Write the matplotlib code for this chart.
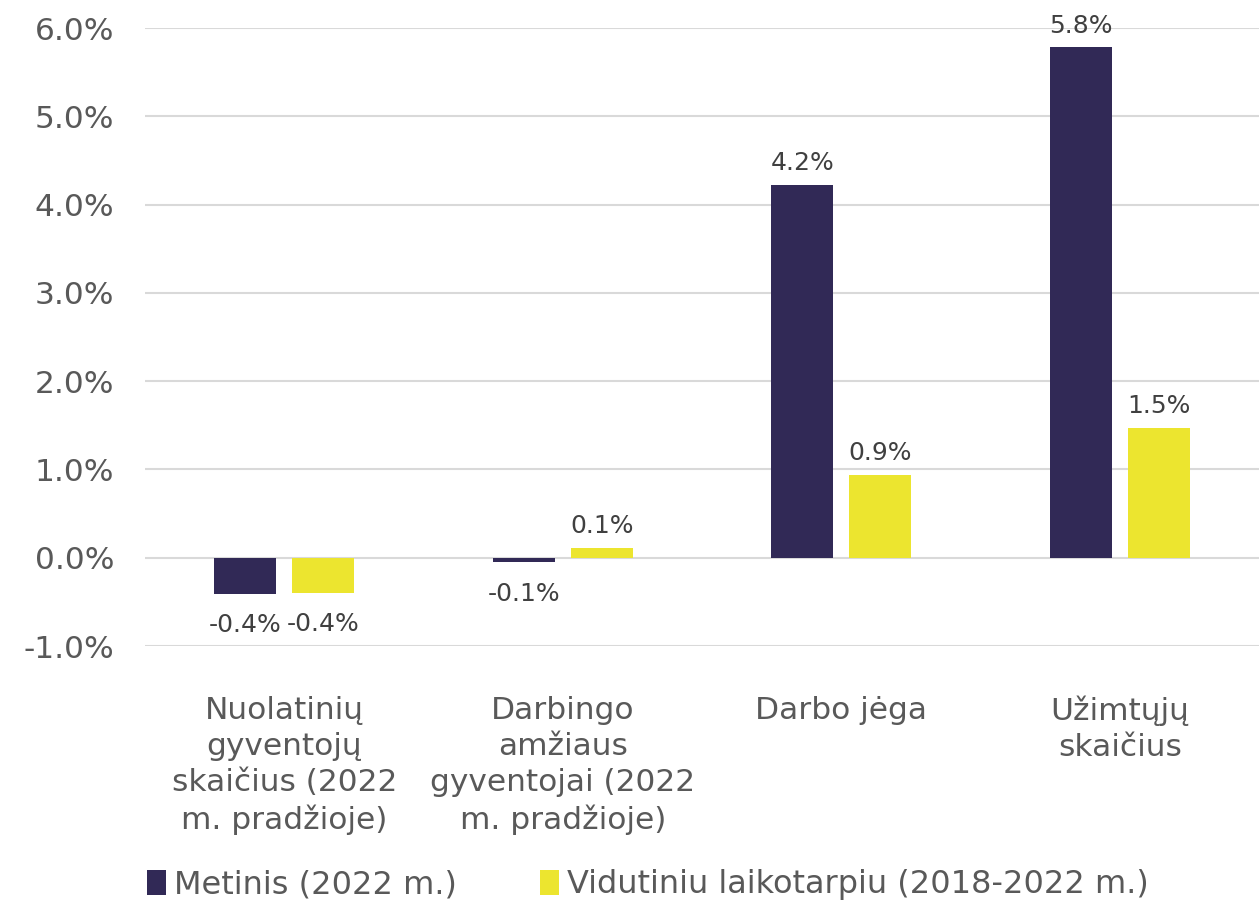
import matplotlib
matplotlib.use("Agg")
import matplotlib.pyplot as plt
import numpy as np
from matplotlib.ticker import FuncFormatter

categories = ["Nuolatinių\ngyventojų\nskaičius (2022\nm. pradžioje)",
              "Darbingo\namžiaus\ngyventojai (2022\nm. pradžioje)",
              "Darbo jėga",
              "Užimtųjų\nskaičius"]
series_names = ["Metinis (2022 m.)", "Vidutiniu laikotarpiu (2018-2022 m.)"]
metinis = [-0.41, -0.05, 4.22, 5.78]
vidutiniu = [-0.40, 0.11, 0.94, 1.47]
colors = ["#312956", "#ECE52F"]

plt.rcParams['font.family'] = ['DejaVu Sans']
fig = plt.figure(figsize=(12.6, 9.06), dpi=100)
ax = fig.add_axes([145/1260, 1-646/906, (1259-145)/1260, (646-28)/906])

x = np.arange(len(categories))
w = 0.223
off = 0.14
b1 = ax.bar(x - off, metinis, w, color=colors[0], label=series_names[0], zorder=3)
b2 = ax.bar(x + off, vidutiniu, w, color=colors[1], label=series_names[1], zorder=3)

for bars in (b1, b2):
    for r in bars:
        v = r.get_height()
        xc = r.get_x() + r.get_width()/2
        if v >= 0:
            ax.annotate(f"{v:.1f}%", (xc, v), xytext=(0, 7), textcoords="offset points",
                        ha="center", va="bottom", fontsize=18, color="#404040")
        else:
            ax.annotate(f"{v:.1f}%", (xc, v), xytext=(0, -14), textcoords="offset points",
                        ha="center", va="top", fontsize=18, color="#404040")

ax.set_ylim(-1, 6)
ax.set_xlim(-0.5, 3.5)
ax.set_yticks(np.arange(-1, 6.1, 1))
ax.yaxis.set_major_formatter(FuncFormatter(lambda v, p: f"{v:.1f}%"))
ax.grid(axis="y", color="#d9d9d9", linewidth=1.5, zorder=0)
for s in ax.spines.values():
    s.set_visible(False)
ax.tick_params(axis="both", length=0, labelsize=22.5, colors="#595959")
ax.tick_params(axis="y", pad=22)
ax.set_xticks(x)
ax.set_xticklabels(categories, fontsize=22.5, color="#595959", linespacing=1.3)
ax.tick_params(axis="x", pad=36)

leg = fig.legend(loc="center", bbox_to_anchor=(0.514, 1-885/906), ncol=2, frameon=False,
                 fontsize=23, handlelength=0.6, handleheight=0.8, handletextpad=0.25,
                 columnspacing=2.6, labelcolor="#595959")
fig.savefig("out.png", dpi=100)
